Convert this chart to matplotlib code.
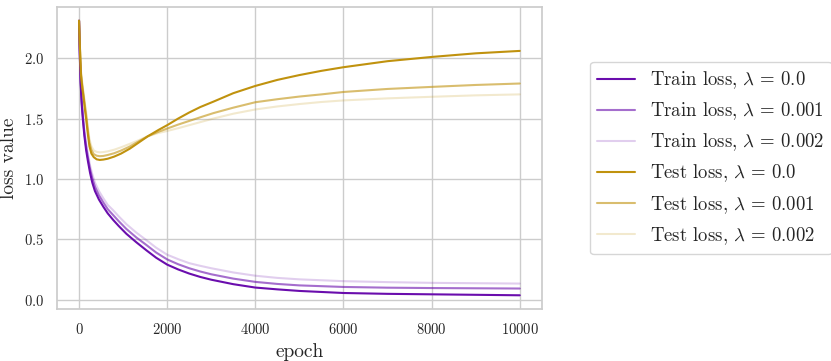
import matplotlib
matplotlib.use("Agg")
import matplotlib.pyplot as plt
import seaborn as sns

sns.set_theme(style="whitegrid")
plt.rcParams["font.family"] = ["cmr10", "DejaVu Serif"]
plt.rcParams["mathtext.fontset"] = "cm"
plt.rcParams["axes.formatter.use_mathtext"] = True

# epochs at which values were read
train_epochs = [0, 15, 35, 60, 85, 120, 160, 200, 250, 300, 360, 450, 550, 650, 775, 900, 1075,
                1300, 1530, 1750, 2000, 2250, 2500, 2750, 3000, 3500, 4000, 4500, 5000, 6000,
                7000, 8000, 9000, 10000]
train_l0 = [2.31, 2.05, 1.80, 1.62, 1.50, 1.36, 1.24, 1.15, 1.05, 0.97, 0.90, 0.83, 0.77, 0.715,
            0.66, 0.61, 0.545, 0.475, 0.408, 0.347, 0.29, 0.25, 0.216, 0.188, 0.165, 0.128, 0.10,
            0.085, 0.072, 0.055, 0.048, 0.044, 0.040, 0.036]
train_l1 = [2.31, 2.06, 1.82, 1.645, 1.525, 1.385, 1.27, 1.18, 1.08, 1.005, 0.935, 0.865, 0.805,
            0.75, 0.70, 0.65, 0.585, 0.515, 0.452, 0.39, 0.333, 0.293, 0.26, 0.233, 0.21, 0.174,
            0.147, 0.13, 0.118, 0.105, 0.099, 0.096, 0.094, 0.092]
train_l2 = [2.31, 2.07, 1.84, 1.67, 1.55, 1.41, 1.30, 1.21, 1.11, 1.04, 0.97, 0.90, 0.84, 0.785,
            0.74, 0.69, 0.625, 0.555, 0.492, 0.43, 0.372, 0.335, 0.302, 0.28, 0.26, 0.225, 0.198,
            0.18, 0.168, 0.153, 0.145, 0.139, 0.136, 0.133]

test_epochs = [0, 20, 45, 75, 107, 135, 160, 200, 236, 280, 334, 400, 470, 550, 650, 800, 955,
               1150, 1350, 1560, 1800, 2000, 2250, 2500, 2750, 3050, 3500, 4000, 4500, 5000,
               5500, 6000, 7000, 8000, 9000, 10000]
test_l0 = [2.31, 2.08, 1.855, 1.75, 1.66, 1.57, 1.50, 1.37, 1.27, 1.21, 1.18, 1.162, 1.157, 1.16,
           1.167, 1.185, 1.21, 1.25, 1.30, 1.353, 1.405, 1.445, 1.50, 1.55, 1.595, 1.64, 1.71,
           1.77, 1.82, 1.86, 1.895, 1.925, 1.975, 2.01, 2.04, 2.06]
test_l1 = [2.31, 2.09, 1.87, 1.77, 1.68, 1.60, 1.53, 1.40, 1.30, 1.24, 1.205, 1.192, 1.188, 1.19,
           1.198, 1.213, 1.235, 1.268, 1.31, 1.353, 1.39, 1.417, 1.45, 1.48, 1.51, 1.545, 1.59,
           1.635, 1.66, 1.682, 1.70, 1.72, 1.745, 1.762, 1.778, 1.79]
test_l2 = [2.31, 2.10, 1.89, 1.79, 1.70, 1.62, 1.56, 1.43, 1.33, 1.27, 1.235, 1.224, 1.22, 1.222,
           1.228, 1.242, 1.262, 1.29, 1.32, 1.353, 1.38, 1.397, 1.42, 1.445, 1.47, 1.50, 1.54,
           1.575, 1.60, 1.62, 1.637, 1.65, 1.667, 1.68, 1.692, 1.70]

lambdas = ["0.0", "0.001", "0.002"]
alphas = [1.0, 0.6, 0.2]
purple = "#6A0DAD"
gold = "#C0920E"

fig = plt.figure(figsize=(8.31, 3.61), dpi=100)
ax = fig.add_axes([0.0686, 0.144, 0.5834, 0.8366])

for vals, lam, a in zip([train_l0, train_l1, train_l2], lambdas, alphas):
    ax.plot(train_epochs, vals, color=purple, alpha=a, lw=1.5,
            label=r"Train loss, $\lambda\,=\,%s$" % lam)
for vals, lam, a in zip([test_l0, test_l1, test_l2], lambdas, alphas):
    ax.plot(test_epochs, vals, color=gold, alpha=a, lw=1.5,
            label=r"Test loss, $\lambda\,=\,%s$" % lam)

ax.set_xlabel("epoch", fontsize=14)
ax.set_ylabel("loss value", fontsize=14)
ax.tick_params(labelsize=10.5)
ax.set_yticks([0.0, 0.5, 1.0, 1.5, 2.0])
ax.set_xticks([0, 2000, 4000, 6000, 8000, 10000])

ax.legend(loc="center left", bbox_to_anchor=(1.08, 0.5), fontsize=13.5, frameon=True)

fig.savefig("out.png", dpi=100)
